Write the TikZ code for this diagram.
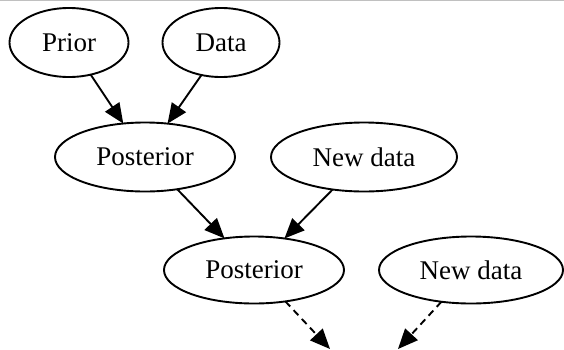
\documentclass[tikz,border=0pt]{standalone}
\usepackage{fontspec}
\setmainfont{Liberation Serif}
\usetikzlibrary{shapes.geometric,arrows.meta}
\begin{document}
\begin{tikzpicture}[x=1pt,y=-1pt,
  gnode/.style={ellipse,draw,line width=1.9pt,inner sep=0pt,outer sep=0pt,font=\fontsize{27}{30}\selectfont},
  edge/.style={line width=1.9pt,-{Triangle[length=20pt,width=17pt]}},
  dedge/.style={edge,dash pattern=on 7pt off 5pt}]
\useasboundingbox (0,0) rectangle (564,349);
\draw[color={rgb,255:red,192;green,192;blue,192},line width=1pt] (0,0.5) -- (564,0.5);
\node[gnode,minimum width=119pt,minimum height=69pt] (prior) at (69,42.5) {Prior};
\node[gnode,minimum width=117pt,minimum height=69pt] (data) at (221,42.5) {Data};
\node[gnode,minimum width=180pt,minimum height=69pt] (post1) at (145,157) {Posterior};
\node[gnode,minimum width=186pt,minimum height=69pt] (new1) at (364,157) {New data};
\node[gnode,minimum width=180pt,minimum height=67pt] (post2) at (254,270) {Posterior};
\node[gnode,minimum width=184pt,minimum height=67pt] (new2) at (471,270) {New data};
\coordinate (endA) at (330,349);
\coordinate (endB) at (398,349);
\draw[edge] (prior.-56.7) -- (post1.123.3);
\draw[edge] (data.-121) -- (post1.56.7);
\draw[edge] (post1.-45) -- (post2.133);
\draw[edge] (new1.-134) -- (post2.46);
\draw[dedge] (post2.-45) -- (endA);
\draw[dedge] (new2.-133) -- (endB);
\end{tikzpicture}
\end{document}
